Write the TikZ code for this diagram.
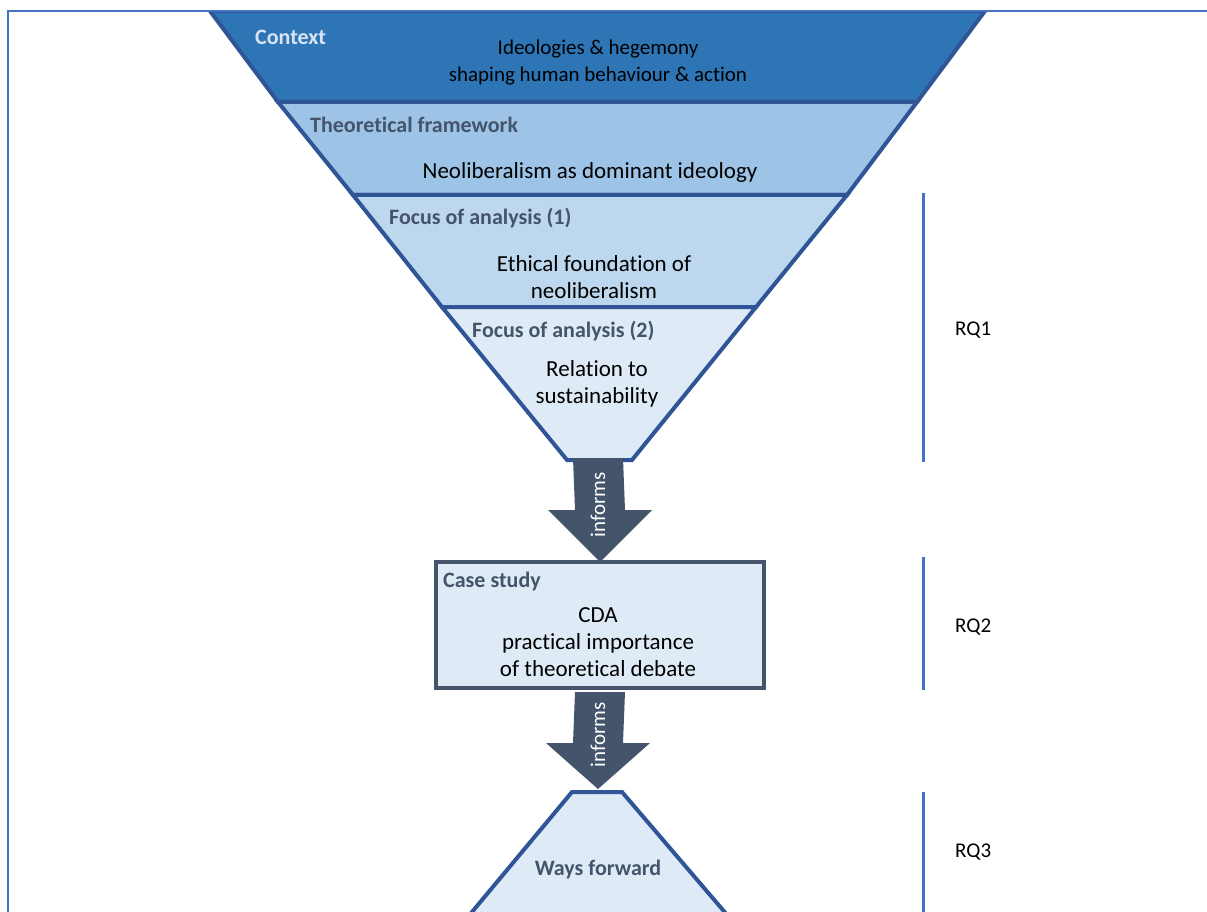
\documentclass[tikz,border=0pt]{standalone}
\usepackage{fontspec}
\setmainfont{Carlito}[Ligatures=NoCommon]
\usetikzlibrary{calc}
\definecolor{ctxfill}{HTML}{2E75B6}
\definecolor{thffill}{HTML}{9DC3E6}
\definecolor{fa1fill}{HTML}{BDD7EE}
\definecolor{fa2fill}{HTML}{DEEBF7}
\definecolor{edgeblue}{HTML}{2F5597}
\definecolor{slate}{HTML}{44546A}
\definecolor{frameblue}{HTML}{4472C4}
\definecolor{ctxlabel}{HTML}{DAE3F3}
\tikzset{
  band/.style={draw=edgeblue, line width=4pt, line join=miter},
  maintext/.style={font=\fontsize{23}{27}\selectfont, align=center, text=black, inner sep=0pt},
  ctxtext/.style={font=\fontsize{21}{27}\selectfont, align=center, text=black, inner sep=0pt},
  headlabel/.style={font=\fontsize{22}{26}\selectfont\bfseries, text=slate, inner sep=0pt, anchor=base west},
  rqline/.style={draw=frameblue, line width=3pt},
  rqtext/.style={font=\fontsize{21}{26}\selectfont, text=black, inner sep=0pt, anchor=west},
  blockarrow/.style={fill=slate},
  informs/.style={font=\fontsize{21}{26}\selectfont, text=white, rotate=90, inner sep=0pt}
}
\begin{document}
\begin{tikzpicture}[x=1pt,y=-1pt]
\useasboundingbox (0,0) rectangle (1207,912);
\fill[white] (0,0) rectangle (1207,912);
\begin{scope}
\clip (0,11) rectangle (1207,912);
% funnel bands
\filldraw[band, fill=ctxfill] (210,11) -- (985,11) -- (917,102) -- (278,102) -- cycle;
\filldraw[band, fill=thffill] (278,102) -- (917,102) -- (847,195) -- (353,195) -- cycle;
\filldraw[band, fill=fa1fill] (353,195) -- (847,195) -- (756,307) -- (442,307) -- cycle;
\filldraw[band, fill=fa2fill] (442,307) -- (756,307) -- (632,460) -- (567,460) -- cycle;
% ways forward
\filldraw[band, fill=fa2fill] (457,930) -- (572,792) -- (622,792) -- (740,930) -- cycle;
\end{scope}
% frame
\draw[frameblue, line width=2.5pt] (8,912) -- (8,11) -- (1207,11);

\coordinate (f4b) at (598,460);
\coordinate (wf) at (598,789);

% texts in funnel
\node[headlabel, text=ctxlabel] (lctx) at (255,45) {Context};
\node[ctxtext] (tctx) at (598,63) {Ideologies \& hegemony\\shaping human behaviour \& action};
\node[headlabel] (lthf) at (310,133) {Theoretical framework};
\node[maintext] (tthf) at (590,172) {Neoliberalism as dominant ideology};
\node[headlabel] (lfa1) at (389,225) {Focus of analysis (1)};
\node[maintext] (tfa1) at (594,277) {Ethical foundation of\\neoliberalism};
\node[headlabel] (lfa2) at (472,337) {Focus of analysis (2)};
\node[maintext] (tfa2) at (597,384) {Relation to\\sustainability};

% case study
\node[draw=slate, line width=4pt, fill=fa2fill, minimum width=328pt, minimum height=126pt, inner sep=0pt] (case) at (600,625) {};
\node[headlabel] (lcase) at (443,587) {Case study};
\node[maintext] (tcase) at (598,642) {CDA\\practical importance\\of theoretical debate};

% arrows
\fill[blockarrow] ($(f4b)+(-25,-2)$) -- ($(f4b)+(25,-2)$) -- ($(case.north)+(25,-50)$) -- ($(case.north)+(52,-50)$) -- ($(case.north)+(0,2)$) -- ($(case.north)+(-52,-50)$) -- ($(case.north)+(-25,-50)$) -- cycle;
\node[informs] (inf1) at (598,505) {informs};
\fill[blockarrow] ($(case.south)+(-25,2)$) -- ($(case.south)+(25,2)$) -- ($(wf)+(25,-46)$) -- ($(wf)+(52,-46)$) -- (wf) -- ($(wf)+(-52,-46)$) -- ($(wf)+(-25,-46)$) -- cycle;
\node[informs] (inf2) at (598,735) {informs};

% ways forward label
\node[headlabel, anchor=base] (lwf) at (598,875) {Ways forward};

% RQ brackets
\coordinate (rq1a) at (923,193); \coordinate (rq1b) at (923,462);
\coordinate (rq2a) at (923,557); \coordinate (rq2b) at (923,690);
\coordinate (rq3a) at (923,792); \coordinate (rq3b) at (923,912);
\draw[rqline] (rq1a) -- (rq1b);
\draw[rqline] (rq2a) -- (rq2b);
\draw[rqline] (rq3a) -- (rq3b);
\node[rqtext] (rq1) at (955,330) {RQ1};
\node[rqtext] (rq2) at (955,627) {RQ2};
\node[rqtext] (rq3) at (955,852) {RQ3};
\end{tikzpicture}
\end{document}
